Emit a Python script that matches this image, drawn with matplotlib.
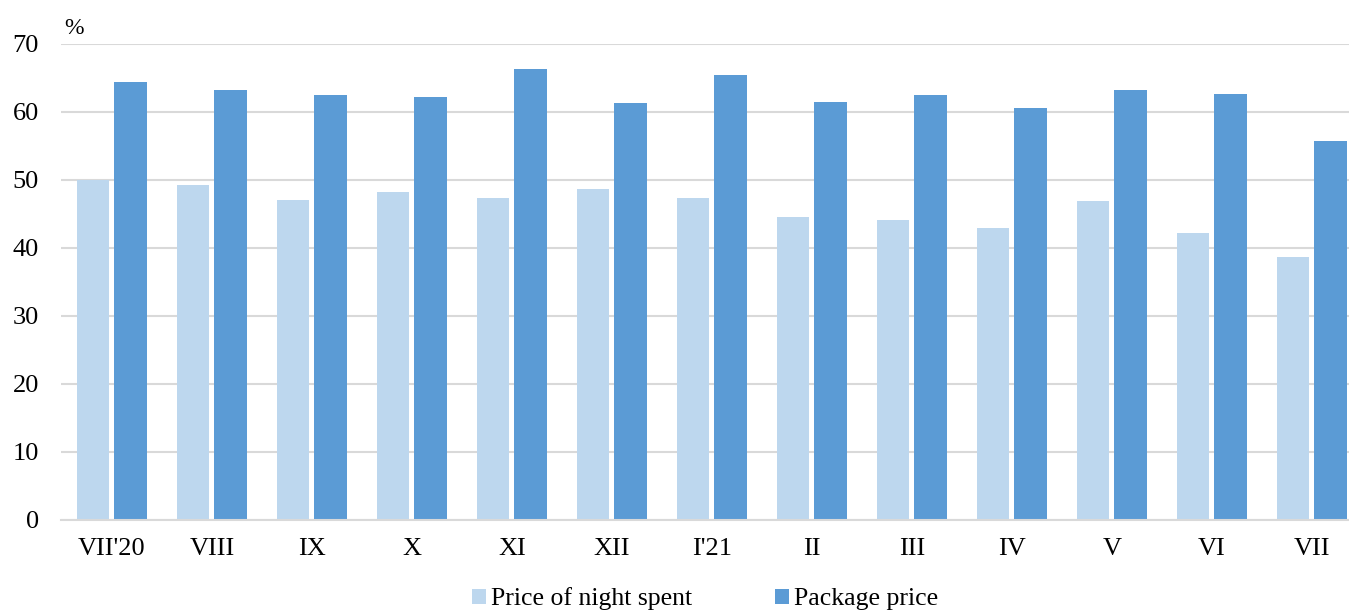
import matplotlib.pyplot as plt
import numpy as np

plt.rcParams['font.family'] = ['Liberation Serif', 'DejaVu Serif']

months = ["VII'20", "VIII", "IX", "X", "XI", "XII", "I'21", "II", "III", "IV", "V", "VI", "VII"]
night_price = [50.0, 49.3, 47.1, 48.2, 47.4, 48.7, 47.4, 44.6, 44.1, 42.9, 46.9, 42.2, 38.7]
package_price = [64.4, 63.2, 62.5, 62.2, 66.3, 61.3, 65.4, 61.5, 62.5, 60.6, 63.2, 62.6, 55.7]

W, H = 1349, 610
fig = plt.figure(figsize=(W / 100, H / 100), dpi=100)
ax = fig.add_axes([61 / W, 1 - 520 / H, (W - 61) / W, (520 - 44) / H])

x = np.arange(len(months))
ax.bar(x - 0.195, night_price, width=0.32, color='#BDD7EE', label='Price of night spent', zorder=2)
ax.bar(x + 0.185, package_price, width=0.33, color='#5B9BD5', label='Package price', zorder=2)

ax.set_xlim(-0.51, 12.37)
ax.set_ylim(0, 70)
ax.set_yticks(range(0, 71, 10))
ax.set_xticks(x, labels=months)
ax.yaxis.grid(True, color='#D9D9D9', linewidth=1.5, zorder=0)
ax.tick_params(axis='both', length=0, labelsize=19, colors='black')
ax.tick_params(axis='y', pad=16)
ax.tick_params(axis='x', pad=13)
for s in ['top', 'right', 'left']:
    ax.spines[s].set_visible(False)
ax.spines['bottom'].set_color('#D9D9D9')
ax.spines['bottom'].set_linewidth(1.5)

fig.text(64 / W, 1 - 28 / H, '%', fontsize=17, va='center', ha='left')

fig.legend(loc='center', bbox_to_anchor=(705 / W, 1 - 599 / H), ncol=2, frameon=False,
           fontsize=18.5, handlelength=0.55, handleheight=0.55, handletextpad=0.2,
           columnspacing=3.2)

fig.savefig('out.png', dpi=100)
